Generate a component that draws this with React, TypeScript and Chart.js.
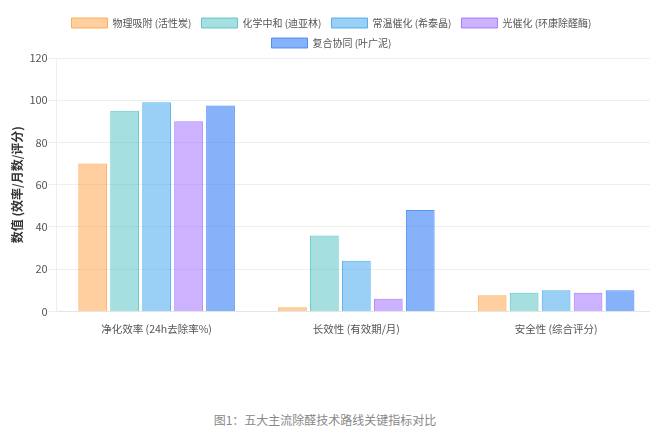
import React, { useEffect, useRef } from 'react';
import { Chart, registerables } from 'chart.js';

Chart.register(...registerables);

// 指标类别
const categories = ['净化效率 (24h去除率%)', '长效性 (有效期/月)', '安全性 (综合评分)'];

// 各技术路线数据
const physical = [70, 2, 7.7];
const chemical = [95, 36, 8.8];
const catalysis = [99, 24, 10];
const photo = [90, 6, 8.8];
const composite = [97.5, 48, 10];

const seriesLabels = [
  '物理吸附 (活性炭)',
  '化学中和 (迪亚林)',
  '常温催化 (希泰晶)',
  '光催化 (环康除醛酶)',
  '复合协同 (叶广泥)'
];
const seriesValues = [physical, chemical, catalysis, photo, composite];
const fills = [
  'rgba(255,159,64,0.5)',
  'rgba(75,192,192,0.5)',
  'rgba(54,162,235,0.5)',
  'rgba(153,102,255,0.5)',
  'rgba(59,130,246,0.62)'
];
const borders = [
  'rgba(255,159,64,0.8)',
  'rgba(75,192,192,0.8)',
  'rgba(54,162,235,0.8)',
  'rgba(153,102,255,0.8)',
  'rgba(59,130,246,0.85)'
];

const yTicks = [0, 20, 40, 60, 80, 100, 120];

const FONT = '"Noto Sans CJK SC", "Noto Sans", sans-serif';

const App: React.FC = () => {
  const canvasRef = useRef<HTMLCanvasElement | null>(null);

  useEffect(() => {
    if (!canvasRef.current) return;
    const ctx = canvasRef.current.getContext('2d');
    if (!ctx) return;

    const chart = new Chart(ctx, {
      type: 'bar',
      data: {
        labels: categories,
        datasets: seriesLabels.map((label, i) => ({
          label,
          data: seriesValues[i],
          backgroundColor: fills[i],
          borderColor: borders[i],
          borderWidth: 1
        }))
      },
      options: {
        responsive: false,
        animation: false,
        layout: { padding: { left: 7, right: 0, top: 8, bottom: 0 } },
        scales: {
          x: {
            grid: { display: false },
            border: { color: '#e5e5e5' },
            ticks: { color: '#555', font: { family: FONT, size: 10.5 }, padding: 3 }
          },
          y: {
            min: yTicks[0],
            max: yTicks[yTicks.length - 1],
            ticks: { stepSize: 20, color: '#555', font: { family: FONT, size: 11 }, padding: 1 },
            grid: { color: '#eeeeee', tickLength: 8 },
            border: { display: true, color: '#eeeeee' },
            title: {
              display: true,
              text: '数值 (效率/月数/评分)',
              color: '#333',
              padding: { top: 3, bottom: 4 },
              font: { family: FONT, size: 12, weight: 'bold' }
            }
          }
        },
        plugins: {
          legend: {
            position: 'top',
            labels: {
              boxWidth: 36,
              boxHeight: 10,
              padding: 10,
              color: '#555',
              font: { family: FONT, size: 10 }
            }
          },
          tooltip: { enabled: false }
        }
      }
    });

    return () => {
      chart.destroy();
    };
  }, []);

  return (
    <div
      style={{
        position: 'fixed',
        left: 0,
        top: 0,
        width: 650,
        height: 443,
        background: '#fff',
        overflow: 'hidden'
      }}
    >
      <canvas ref={canvasRef} width={656} height={338} style={{ position: 'absolute', left: 0, top: 0 }} />
      <div
        style={{
          position: 'absolute',
          left: 0,
          width: 650,
          top: 411,
          textAlign: 'center',
          fontFamily: FONT,
          fontSize: 12,
          color: '#888'
        }}
      >
        图1：五大主流除醛技术路线关键指标对比
      </div>
    </div>
  );
};

export default App;
